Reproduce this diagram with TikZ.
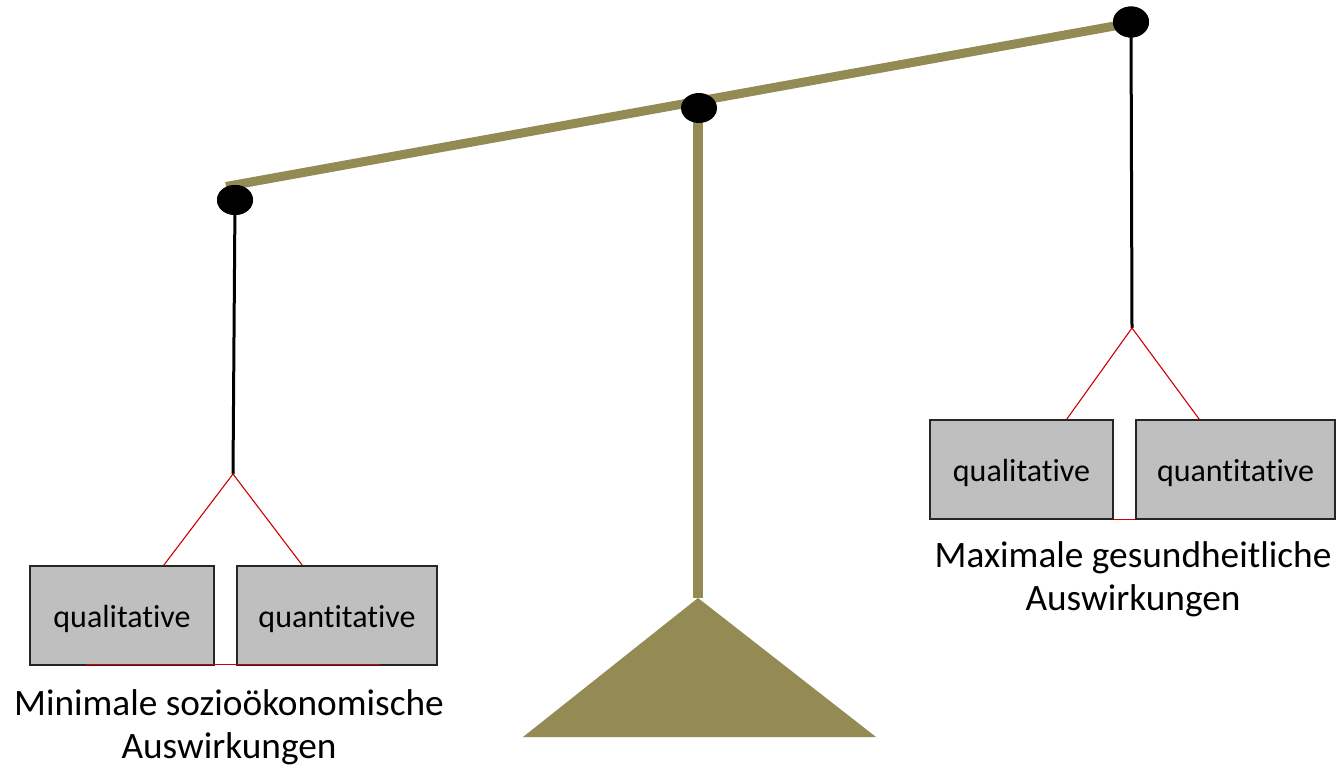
\documentclass[tikz,border=0pt]{standalone}
\usepackage{fontspec}
\setmainfont{Carlito}[Ligatures=NoCommon]
\usetikzlibrary{shapes.geometric}
\definecolor{olivebar}{HTML}{948A54}
\definecolor{boxgray}{HTML}{BFBFBF}
\definecolor{wire}{HTML}{D00000}
\tikzset{
  pivot/.style={ellipse, fill=black, draw=none, minimum width=36pt, minimum height=30pt, inner sep=0pt},
  beambar/.style={draw=olivebar, line width=9pt},
  polebar/.style={draw=olivebar, line width=10pt},
  stringline/.style={draw=black, line width=3pt},
  redline/.style={draw=wire, line width=1.1pt},
  pan/.style={rectangle, draw=black!85, line width=1.3pt, fill=boxgray, minimum height=99pt, inner sep=0pt, text height=25pt, text depth=2pt, font=\fontsize{32}{38}\selectfont},
  caption/.style={align=center, font=\fontsize{37.3}{43}\selectfont, inner sep=0pt}
}
\begin{document}
\begin{tikzpicture}[x=1pt,y=-1pt]
\useasboundingbox (0,0) rectangle (1336,767);
% coordinates
\coordinate (bL) at (226,186.5);
\coordinate (bR) at (1131,23);
\coordinate (apex) at (698,598);
\coordinate (baseL) at (523,737);
\coordinate (baseR) at (876,737);
\coordinate (hL) at (233,474);
\coordinate (hR) at (1132,328);
% stand
\fill[olivebar] (apex) -- (baseL) -- (baseR) -- cycle;
\draw[polebar] (698,108) -- (apex);
% beam
\draw[beambar] (bL) -- (bR);
% pans
\node[pan, minimum width=184pt] (qualL) at (122,615.5) {qualitative};
\node[pan, minimum width=200pt] (quantL) at (337,615.5) {quantitative};
\node[pan, minimum width=183pt] (qualR) at (1021.5,469.5) {qualitative};
\node[pan, minimum width=199pt] (quantR) at (1235.5,469.5) {quantitative};
% pivots
\node[pivot] (pL) at (235,200) {};
\node[pivot] (pM) at (699,108) {};
\node[pivot, minimum height=31pt] (pR) at (1131,22) {};
% strings
\draw[stringline] (pL.center) -- (hL);
\draw[stringline] (pR.center) -- (hR);
\node[pivot] at (pL) {};
\node[pivot, minimum height=31pt] at (pR) {};
% red wires
\draw[redline] ([xshift=-51pt]qualL.north east) -- (hL) -- ([xshift=66pt]quantL.north west);
\draw[redline] ([xshift=-47pt]qualR.north east) -- (hR) -- ([xshift=64pt]quantR.north west);
\draw[redline] ([xshift=57pt,yshift=1pt]qualL.south west) -- ([xshift=-58pt,yshift=1pt]quantL.south east);
\draw[redline] (qualR.south east) -- (quantR.south west);
% captions (base anchor = baseline of the last line)
\node[caption, anchor=base] (capL) at (229,758) {Minimale sozioökonomische\\Auswirkungen};
\node[caption, anchor=base] (capR) at (1133,610) {Maximale gesundheitliche\\Auswirkungen};
\end{tikzpicture}
\end{document}
